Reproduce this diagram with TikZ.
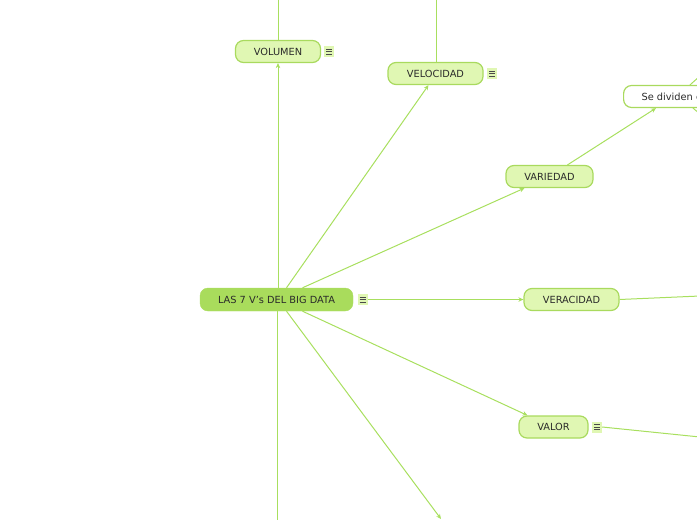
\documentclass[tikz,border=0pt]{standalone}
\usepackage{fontspec}
\setmainfont{DejaVu Sans}
\usetikzlibrary{arrows.meta}
\definecolor{lnc}{HTML}{A8DF5E}
\definecolor{mainfill}{HTML}{A9DC5C}
\definecolor{subfill}{HTML}{E0F7B3}
\definecolor{bordc}{HTML}{A9DA5E}
\definecolor{txt}{HTML}{2A2A2A}
\tikzset{
  conn/.style={draw=lnc, line width=1pt},
  arr/.style={conn, -{Stealth[length=5pt,width=4.5pt]}},
  mainbox/.style={fill=mainfill, draw=mainfill, rounded corners=8pt, minimum width=153pt, minimum height=23pt, inner sep=0pt, font=\fontsize{9.8}{11}\selectfont, text=txt},
  subbox/.style={fill=subfill, draw=bordc, line width=1.2pt, rounded corners=8pt, minimum height=22pt, inner sep=0pt, font=\fontsize{9.8}{11}\selectfont, text=txt},
  leafbox/.style={fill=white, draw=bordc, line width=1.2pt, rounded corners=8pt, minimum height=22pt, inner ysep=0pt, inner xsep=18pt, font=\fontsize{9.8}{11}\selectfont, text=txt, anchor=west},
  menu/.style={fill=subfill, minimum width=10pt, minimum height=11pt, inner sep=0pt,
    path picture={
      \draw[txt!85, line width=0.8pt]
        ([xshift=-3pt,yshift=2.6pt]path picture bounding box.center) -- ++(6pt,0)
        ([xshift=-3pt,yshift=0pt]path picture bounding box.center) -- ++(6pt,0)
        ([xshift=-3pt,yshift=-2.6pt]path picture bounding box.center) -- ++(6pt,0);
    }}
}
\begin{document}
\begin{tikzpicture}[x=1pt,y=-1pt]
\useasboundingbox (0,0) rectangle (697,520);
\clip (0,0) rectangle (697,520);
% nodes
\node[mainbox] (main) at (276.5,299.5) {LAS 7 V's DEL BIG DATA};
\node[menu] (mm) at (362.5,299.5) {};
\node[subbox, minimum width=85pt] (vol) at (278,51.5) {VOLUMEN};
\node[menu] (mvol) at (329,51.5) {};
\node[subbox, minimum width=95pt] (vel) at (435.5,73.5) {VELOCIDAD};
\node[menu] (mvel) at (492,73.5) {};
\node[subbox, minimum width=87pt] (var) at (549.5,176.5) {VARIEDAD};
\node[leafbox] (div) at (623,96.5) {Se dividen en};
\node[subbox, minimum width=95pt] (ver) at (571.5,299.5) {VERACIDAD};
\node[subbox, minimum width=69pt] (val) at (553.5,427) {VALOR};
\node[menu] (mval) at (597,427) {};
% free ends
\coordinate (volTop) at (278,-2);
\coordinate (velTop) at (436,-2);
\coordinate (divUp) at (700,76);
\coordinate (divDown) at (700,114);
\coordinate (verR) at (700,296);
\coordinate (valR) at (700,437);
\coordinate (downB) at (277,522);
\coordinate (downAend) at (441,519);
% connectors
\draw[conn] (vol.north) -- (volTop);
\draw[conn] ([xshift=0.5pt]vel.north) -- (velTop);
\draw[arr] ([xshift=1.5pt]main.north) -- (vol.south);
\draw[arr] ([xshift=10pt]main.north) -- ([xshift=-7pt]vel.south);
\draw[arr] ([xshift=26pt]main.north) -- ([xshift=-25pt]var.south);
\draw[arr] (mm.east) -- (ver.west);
\draw[arr] ([xshift=26pt]main.south) -- ([xshift=-26pt]val.north);
\draw[arr] ([xshift=10pt]main.south) -- (downAend);
\draw[conn] ([xshift=0.5pt]main.south) -- (downB);
\draw[arr] ([xshift=18pt]var.north) -- ([xshift=33pt]div.south west);
\draw[conn] ([xshift=67pt]div.north west) -- (divUp);
\draw[conn] ([xshift=70pt]div.south west) -- (divDown);
\draw[conn] (ver.east) -- (verR);
\draw[conn] (mval.east) -- (valR);
\end{tikzpicture}
\end{document}
